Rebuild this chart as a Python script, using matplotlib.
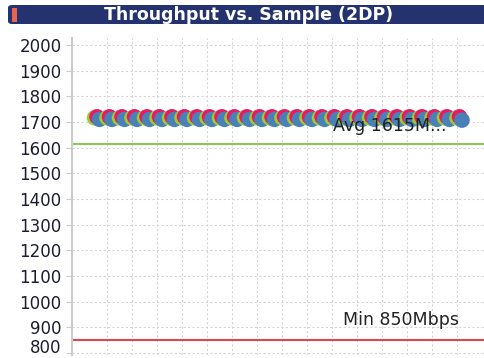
import numpy as np
import matplotlib.pyplot as plt
from matplotlib.patches import FancyBboxPatch, Rectangle

# %% data

samples = np.arange(1, 31)
green_vals = [1716] * 30
pink_vals = [1720] * 30
blue_vals = [1710] * 29 + [1707]
avg_value = 1615
min_value = 850
avg_label = 'Avg 1615M...'
min_label = 'Min 850Mbps'
y_ticks = [800, 900, 1000, 1100, 1200, 1300, 1400, 1500, 1600, 1700, 1800, 1900, 2000]
title = 'Throughput vs. Sample (2DP)'

# %%

W, H = 485, 358
fig = plt.figure(figsize=(W / 100, H / 100), dpi=100)

# title bar
fig.patches.append(FancyBboxPatch((8 / W, 1 - 24 / H), (W - 6) / W, 19 / H,
                                  boxstyle='round,pad=0,rounding_size=0.008',
                                  transform=fig.transFigure, facecolor='#243270',
                                  edgecolor='none'))
fig.patches.append(Rectangle((12 / W, 1 - 22 / H), 5 / W, 14 / H,
                             transform=fig.transFigure, facecolor='#e8644f',
                             edgecolor='none'))
fig.text(249 / W, 1 - 15 / H, title, color='white', fontsize=12.5, fontweight='bold',
         ha='center', va='center')

ax = fig.add_axes([72 / W, 1 - 355 / H, 1 - 72 / W, 317 / H])

# interleave the three series so each sample's markers stack in order
xs = np.column_stack([samples, samples + 0.2, samples + 0.4]).ravel()
ys = np.column_stack([green_vals, pink_vals, blue_vals]).ravel()
cols = ['#9ccb34', '#e91a62', '#4a80b8'] * len(samples)
ax.scatter(xs, ys, s=125, c=cols, zorder=3, linewidths=0)

ax.axhline(avg_value, color='#8cc850', lw=1.5, zorder=2)
ax.axhline(min_value, color='#e0474c', lw=1.5, zorder=2)
ax.text(20.1, 1683, avg_label, fontsize=12.5, color='#222222', va='center', zorder=6)
ax.text(20.9, 928, min_label, fontsize=12.5, color='#222222', va='center', zorder=6)

ax.set_xlim(-0.8, 32.24)
ax.set_ylim(792, 2027)
ax.set_xticks(np.arange(2, 32, 2))
ax.set_yticks(y_ticks)
ax.tick_params(axis='x', length=0, labelbottom=False)
ax.tick_params(axis='y', length=4, color='#cccccc', labelsize=12, labelcolor='#1c1c30')
ax.get_yticklabels()[0].set_va('baseline')
ax.grid(True, color='#d4d4d4', lw=0.8, linestyle=(0, (2, 2)))
ax.set_axisbelow(True)
for side in ['top', 'right', 'bottom']:
    ax.spines[side].set_visible(False)
ax.spines['left'].set_color('#cccccc')
ax.spines['left'].set_linewidth(1.5)

fig.savefig('out.png', dpi=100)
